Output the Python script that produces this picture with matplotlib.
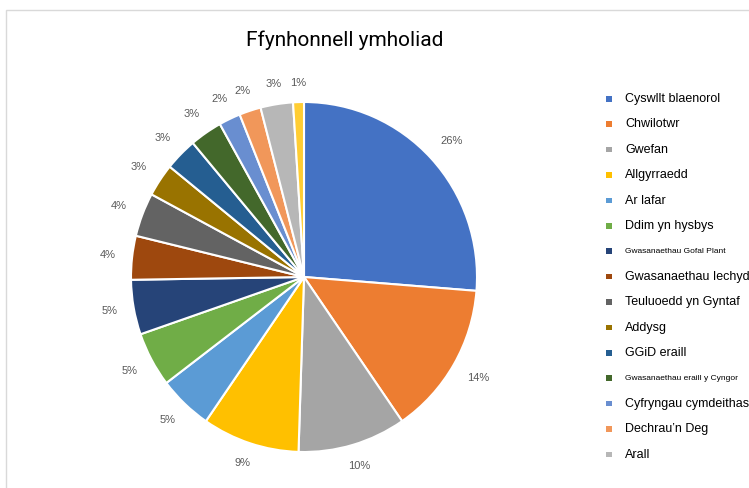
import numpy as np
import matplotlib
matplotlib.use("Agg")
import matplotlib.pyplot as plt
from matplotlib.patches import Rectangle

categories = ["Cyswllt blaenorol", "Chwilotwr", "Gwefan", "Allgyrraedd", "Ar lafar",
              "Ddim yn hysbys", "Gwasanaethau Gofal Plant", "Gwasanaethau Iechyd",
              "Teuluoedd yn Gyntaf", "Addysg", "GGiD eraill", "Gwasanaethau eraill y Cyngor",
              "Cyfryngau cymdeithasol", "Dechrau'n Deg", "Arall", "Arall (2)"]
values = [26, 14, 10, 9, 5, 5, 5, 4, 4, 3, 3, 3, 2, 2, 3, 1]
pct_labels = ["26%", "14%", "10%", "9%", "5%", "5%", "5%", "4%", "4%", "3%", "3%", "3%",
              "2%", "2%", "3%", "1%"]
colors = ["#4472C4", "#ED7D31", "#A5A5A5", "#FFC000", "#5B9BD5", "#70AD47", "#264478",
          "#9E480E", "#636363", "#997300", "#255E91", "#43682B", "#698ED0", "#F1975A",
          "#B7B7B7", "#FFCD33"]
legend_labels = ["Cyswllt blaenorol", "Chwilotwr", "Gwefan", "Allgyrraedd", "Ar lafar",
                 "Ddim yn hysbys", "Gwasanaethau Gofal Plant", "Gwasanaethau Iechyd",
                 "Teuluoedd yn Gyntaf", "Addysg", "GGiD eraill", "Gwasanaethau eraill y Cyngor",
                 "Cyfryngau cymdeithasol", "Dechrau\u2019n Deg", "Arall"]
legend_sizes = [9, 9, 9, 9, 9, 9, 6, 9, 9, 9, 9, 6, 9, 9, 9]

W, H = 749, 488
fig = plt.figure(figsize=(W / 100, H / 100), dpi=100)
fig.patch.set_facecolor("white")

# frame border (screenshot of chart area)
fig.add_artist(Rectangle((6 / W, -0.05), 1.2, 1 - 10 / H + 0.05, transform=fig.transFigure,
                         fill=False, edgecolor="#D9D9D9", linewidth=1))

cx, cy, rx, ry = 304, 277, 173, 175
ax = fig.add_axes([(cx - rx) / W, (H - cy - ry) / H, 2 * rx / W, 2 * ry / H])
wedges, texts = ax.pie(values, colors=colors, startangle=90, counterclock=False,
                       labels=pct_labels, labeldistance=1.12,
                       wedgeprops=dict(edgecolor="white", linewidth=1.5),
                       textprops=dict(color="#595959", fontsize=8, family="Liberation Sans"))
ax.set_xlim(-1, 1)
ax.set_ylim(-1, 1)
ax.set_aspect("auto")
ax.axis("off")

fig.canvas.draw()
renderer = fig.canvas.get_renderer()
gap = 14
for w, t in zip(wedges, texts):
    t.set_horizontalalignment("center")
    t.set_verticalalignment("center")
    ang = np.deg2rad((w.theta1 + w.theta2) / 2)
    bb = t.get_window_extent(renderer)
    c, s = np.cos(ang), np.sin(ang)
    d = ry + gap + bb.width / 2 * abs(c) + bb.height / 2 * abs(s)
    t.set_position((d * c / rx, d * s / ry))

fig.text(345 / W, 1 - 40 / H, "Ffynhonnell ymholiad", ha="center", va="center",
         fontsize=15, family="Roboto", color="#000000")

y0, dy = 99, 25.4
for i, (lab, sz) in enumerate(zip(legend_labels, legend_sizes)):
    y = y0 + i * dy
    fig.add_artist(Rectangle((606 / W, 1 - (y + 2.5) / H), 5.5 / W, 5.5 / H,
                             transform=fig.transFigure, facecolor=colors[i], edgecolor="none"))
    fig.text(625 / W, 1 - y / H, lab, ha="left", va="center", fontsize=sz,
             family="Liberation Sans", color="#000000")

fig.savefig("out.png", dpi=100, facecolor="white")
